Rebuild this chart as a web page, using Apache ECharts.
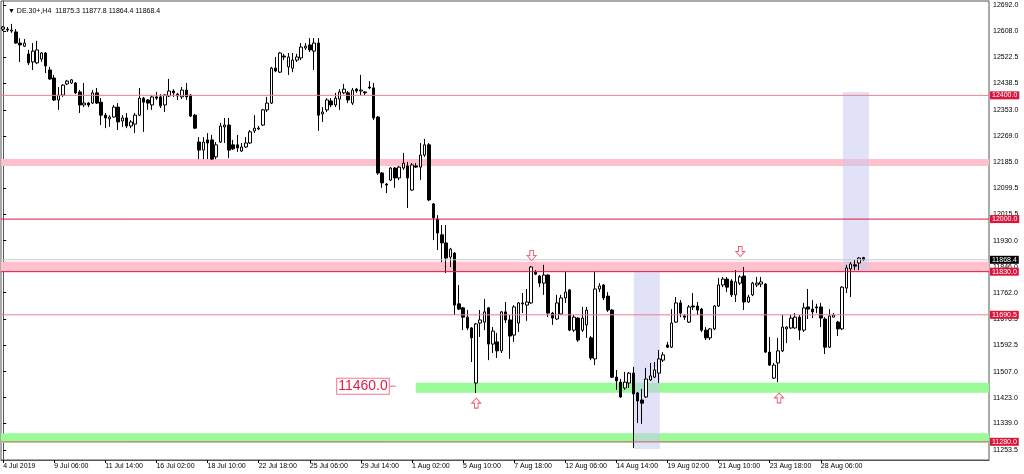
<!DOCTYPE html>
<html><head><meta charset="utf-8">
<script src="https://cdn.jsdelivr.net/npm/echarts@6/dist/echarts.min.js"></script>
<style>html,body{margin:0;padding:0;background:#fff}#c{width:1024px;height:474px}</style>
</head><body><div id="c"></div>
<script>
const symbolName = 'DE.30+,H4';
const lastOHLC = [11875.3, 11877.8, 11864.4, 11868.4];
const xTickLabels = ['4 Jul 2019','9 Jul 06:00','11 Jul 14:00','16 Jul 02:00','18 Jul 10:00','22 Jul 18:00','25 Jul 06:00','29 Jul 14:00','1 Aug 02:00','5 Aug 10:00','7 Aug 18:00','12 Aug 06:00','14 Aug 14:00','19 Aug 02:00','21 Aug 10:00','23 Aug 18:00','28 Aug 06:00'];
const barsPerLabel = 12;
const yTickValues = [12692.0,12608.0,12522.5,12438.5,12353.0,12269.0,12185.0,12099.5,12015.5,11930.0,11846.0,11762.0,11676.5,11592.5,11507.0,11423.0,11339.0,11253.5];
const yMin = 11221.2, yMax = 12705.0;
const slotCount = 232;

const opens = [12614,12614,12608,12605,12569,12559,12534,12508,12505,12517,12537,12482,12456,12385,12401,12437,12440,12440,12411,12369,
12375,12375,12408,12378,12336,12324,12330,12362,12317,12327,12301,12307,12336,12391,12385,12369,12395,12395,12369,12398,
12414,12404,12395,12417,12401,12336,12249,12223,12256,12256,12201,12249,12298,12304,12240,12240,12220,12233,12246,12285,
12291,12304,12353,12375,12488,12475,12527,12492,12488,12514,12521,12553,12563,12543,12569,12340,12353,12382,12369,12388,
12408,12408,12375,12420,12414,12411,12427,12424,12330,12149,12113,12126,12165,12133,12165,12172,12094,12172,12168,12207,
12240,12049,12000,11949,11923,11877,11890,11726,11713,11683,11648,11470,11664,11667,11713,11596,11603,11574,11700,11674,
11625,11664,11729,11722,11729,11829,11816,11793,11819,11696,11677,11693,11745,11771,11641,11680,11641,11658,11616,11548,
11774,11787,11751,11706,11489,11473,11454,11470,11502,11438,11415,11425,11480,11489,11502,11544,11593,11586,11667,11729,
11687,11667,11719,11719,11709,11641,11616,11645,11719,11787,11806,11800,11755,11793,11816,11732,11755,11787,11790,11790,
11570,11486,11535,11574,11645,11648,11648,11683,11641,11716,11709,11716,11716,11677,11586,11683,11667,11645,11777,11839,
11852,11858,11875.3];
const highs = [12624,12621,12631,12614,12585,12582,12547,12569,12576,12540,12540,12492,12466,12427,12436,12450,12453,12443,12417,12440,
12378,12417,12424,12391,12343,12336,12369,12375,12336,12343,12320,12343,12424,12395,12388,12401,12411,12404,12404,12453,
12420,12408,12427,12440,12404,12340,12265,12265,12278,12272,12249,12311,12327,12327,12256,12272,12246,12265,12288,12336,
12301,12356,12395,12492,12524,12540,12534,12537,12537,12534,12569,12569,12585,12585,12585,12362,12391,12391,12408,12420,
12437,12414,12424,12424,12466,12414,12446,12440,12333,12152,12117,12168,12168,12172,12214,12185,12181,12181,12246,12259,
12246,12052,12013,11981,11981,11907,11893,11787,11716,11706,11651,11664,11706,11742,11716,11651,11632,11703,11732,11690,
11722,11732,11761,11774,11848,11835,11819,11852,11822,11700,11755,11755,11829,11774,11690,11683,11716,11716,11622,11829,
11793,11790,11764,11709,11512,11483,11506,11506,11522,11441,11451,11519,11535,11538,11577,11570,11603,11709,11748,11738,
11693,11722,11761,11732,11713,11651,11648,11722,11810,11813,11813,11806,11835,11819,11845,11755,11797,11813,11813,11793,
11619,11535,11616,11690,11654,11690,11696,11690,11729,11774,11738,11726,11729,11683,11709,11696,11671,11783,11852,11861,
11868,11877,11877.8];
const lows = [12608,12605,12602,12566,12508,12556,12498,12482,12501,12508,12472,12450,12382,12353,12395,12433,12437,12404,12343,12362,
12362,12372,12372,12304,12294,12298,12328,12288,12298,12294,12294,12278,12333,12282,12353,12353,12385,12359,12346,12395,
12395,12385,12388,12385,12330,12291,12194,12194,12194,12191,12194,12246,12246,12197,12223,12217,12217,12230,12243,12278,
12288,12301,12346,12372,12475,12472,12514,12466,12475,12508,12514,12547,12540,12482,12285,12314,12346,12362,12362,12353,
12404,12375,12369,12408,12401,12401,12420,12320,12143,12101,12084,12123,12101,12126,12159,12036,12091,12165,12126,12201,
12058,11932,11900,11861,11826,11845,11690,11706,11641,11641,11538,11438,11619,11641,11544,11567,11551,11567,11664,11548,
11603,11635,11696,11671,11726,11819,11780,11755,11683,11658,11674,11690,11729,11638,11635,11603,11635,11616,11544,11528,
11764,11738,11700,11486,11448,11422,11448,11454,11260,11341,11338,11422,11477,11486,11470,11538,11583,11583,11664,11683,
11674,11664,11706,11690,11635,11609,11609,11641,11716,11780,11764,11748,11732,11787,11706,11729,11751,11780,11780,11567,
11525,11483,11473,11570,11599,11645,11645,11609,11635,11677,11680,11696,11651,11564,11583,11683,11622,11641,11761,11748,
11835,11835,11864.4];
const closes = [12621,12611,12611,12569,12563,12569,12505,12543,12547,12537,12495,12453,12385,12401,12433,12446,12450,12408,12369,12375,
12369,12408,12375,12336,12327,12330,12362,12314,12327,12301,12314,12336,12391,12378,12375,12395,12391,12366,12401,12414,
12408,12398,12417,12395,12333,12294,12223,12249,12246,12194,12240,12301,12304,12223,12227,12230,12233,12246,12282,12294,
12294,12353,12375,12488,12479,12537,12524,12524,12514,12524,12556,12559,12547,12569,12336,12346,12385,12369,12391,12411,
12420,12385,12417,12414,12417,12408,12424,12327,12149,12117,12110,12165,12133,12168,12181,12133,12175,12168,12207,12240,
12062,12004,11955,11923,11874,11903,11722,11709,11683,11648,11616,11661,11674,11700,11596,11638,11574,11700,11674,11622,
11716,11729,11726,11732,11845,11822,11793,11819,11696,11680,11729,11745,11764,11641,11683,11609,11680,11706,11551,11774,
11784,11745,11706,11489,11477,11425,11473,11502,11435,11412,11405,11483,11493,11512,11548,11561,11586,11664,11729,11696,
11683,11716,11716,11706,11641,11616,11645,11719,11787,11806,11780,11755,11797,11813,11732,11748,11793,11793,11797,11570,
11528,11528,11574,11651,11651,11680,11683,11641,11713,11709,11700,11713,11680,11586,11687,11690,11645,11780,11842,11855,
11848,11874,11868.4];

const levelPrices = [12400.0, 12000.0, 11830.0, 11690.5, 11280.0];
const currentPrice = 11868.4;
const pinkZones = [[12172, 12194], [11830, 11862]];
const greenZoneFull = [11276, 11308];
const greenZonePartial = [96.9, 11439, 11471];
const timeBoxes = [[148.1, 154.2, 11257, 11828], [197.2, 203.3, 11835, 12411]];
const arrowsDown = [[124.1, 11882], [173.1, 11895]];
const arrowsUp = [[111.1, 11405], [182.2, 11422]];
const note = [84.5, 11460.0];
const noteLink = [90.8, 92.2];

const FONT = 'Liberation Sans';
const cats = Array.from({length: slotCount}, (_, i) => String(i));
const candles = opens.map((o, i) => [o, closes[i], lows[i], highs[i]]);
const showTick = (i) => i % barsPerLabel === 0 && (i / barsPerLabel) < xTickLabels.length;
const xLeft = -0.5, xRight = slotCount - 0.5;

const levelColors = ['#e8808f', '#d81840', '#d81840', '#e8808f', '#e06478'];

function levelSeries(value, lineColor, tagColor, z) {
  return {
    type: 'line', xAxisIndex: 1, silent: true, z: z, symbol: 'none', showSymbol: false, clip: false,
    data: [[xLeft, value], [xRight, value]],
    lineStyle: {color: lineColor, width: 1, type: 'solid'},
    itemStyle: {color: lineColor},
    endLabel: {show: true, distance: 1, color: '#fff', fontSize: 7, fontFamily: FONT,
      padding: [1, 2, 0, 2], backgroundColor: tagColor, formatter: () => value.toFixed(1)}
  };
}

const areaData = [];
pinkZones.forEach(z => areaData.push([{xAxis: xLeft, yAxis: z[0], itemStyle: {color: '#ffc0cb', opacity: 1}}, {xAxis: xRight, yAxis: z[1]}]));
areaData.push([{xAxis: xLeft, yAxis: greenZoneFull[0], itemStyle: {color: '#98fb98', opacity: 1}}, {xAxis: xRight, yAxis: greenZoneFull[1]}]);
areaData.push([{xAxis: greenZonePartial[0], yAxis: greenZonePartial[1], itemStyle: {color: '#98fb98', opacity: 1}}, {xAxis: xRight, yAxis: greenZonePartial[2]}]);
timeBoxes.forEach(b => areaData.push([{xAxis: b[0], yAxis: b[2], itemStyle: {color: 'rgba(200,200,240,0.55)', opacity: 1}}, {xAxis: b[1], yAxis: b[3]}]));

const series = [{
  type: 'candlestick', name: symbolName, xAxisIndex: 0, data: candles, barWidth: 3, z: 3,
  itemStyle: {color: '#fff', color0: '#000', borderColor: '#000', borderColor0: '#000', borderWidth: 1}
}, {
  type: 'scatter', xAxisIndex: 1, data: arrowsDown, z: 6, silent: true,
  symbol: 'path://M3,0L7,0L7,5L10,5L5,10L0,5L3,5Z', symbolSize: [9, 10],
  itemStyle: {color: '#fff', borderColor: '#f0607a', borderWidth: 1, opacity: 1}
}, {
  type: 'scatter', xAxisIndex: 1, data: arrowsUp, z: 6, silent: true,
  symbol: 'path://M5,0L10,5L7,5L7,10L3,10L3,5L0,5Z', symbolSize: [9, 10],
  itemStyle: {color: '#fff', borderColor: '#f0607a', borderWidth: 1, opacity: 1},
  markArea: {silent: true, data: areaData},
  markPoint: {silent: true, data: [{coord: note, symbol: 'rect', symbolSize: 1, itemStyle: {color: 'rgba(0,0,0,0)'},
    label: {show: true, position: 'inside', formatter: note[1].toFixed(1), color: '#e0204a', fontSize: 14, fontFamily: FONT,
      borderColor: '#f07890', borderWidth: 1, padding: [1, 1, 0, 1], backgroundColor: '#fff'}}]}
}, {
  type: 'line', xAxisIndex: 1, silent: true, z: 5, symbol: 'none', showSymbol: false,
  data: [[noteLink[0], note[1]], [noteLink[1], note[1]]],
  lineStyle: {color: '#e06080', width: 1}
}];
series.push(levelSeries(currentPrice, '#c8c8c8', '#000', 4));
levelPrices.forEach((v, i) => series.push(levelSeries(v, levelColors[i], '#dc143c', 5)));

const chart = echarts.init(document.getElementById('c'));
chart.setOption({
  animation: false,
  backgroundColor: '#fff',
  title: {
    text: '\u25BC ' + symbolName + '  ' + lastOHLC.map(v => v.toFixed(1)).join(' '),
    left: 3, top: 3,
    textStyle: {fontSize: 7, fontWeight: 'normal', color: '#000', fontFamily: FONT}
  },
  grid: {left: 1, right: 35, top: 1, bottom: 14, show: true, borderColor: '#555', borderWidth: 1, backgroundColor: '#fff'},
  xAxis: [{
    type: 'category', data: cats, boundaryGap: true,
    axisLine: {show: true, lineStyle: {color: '#555'}},
    axisTick: {show: true, interval: showTick, alignWithLabel: true, length: 3, lineStyle: {color: '#000'}},
    axisLabel: {interval: showTick, formatter: (v, i) => xTickLabels[i / barsPerLabel] || '', align: 'left',
      fontSize: 7, fontFamily: FONT, color: '#000', margin: 3},
    splitLine: {show: false}
  }, {
    type: 'value', min: xLeft, max: xRight, show: false
  }],
  yAxis: {
    type: 'value', position: 'right', min: yMin, max: yMax, scale: true,
    splitLine: {show: false},
    axisLine: {show: true, lineStyle: {color: '#555'}},
    axisTick: {show: true, customValues: yTickValues, length: 3, lineStyle: {color: '#000'}},
    axisLabel: {customValues: yTickValues, formatter: v => v.toFixed(1), fontSize: 7, fontFamily: FONT, color: '#000', margin: 4}
  },
  series: series
});
</script></body></html>
